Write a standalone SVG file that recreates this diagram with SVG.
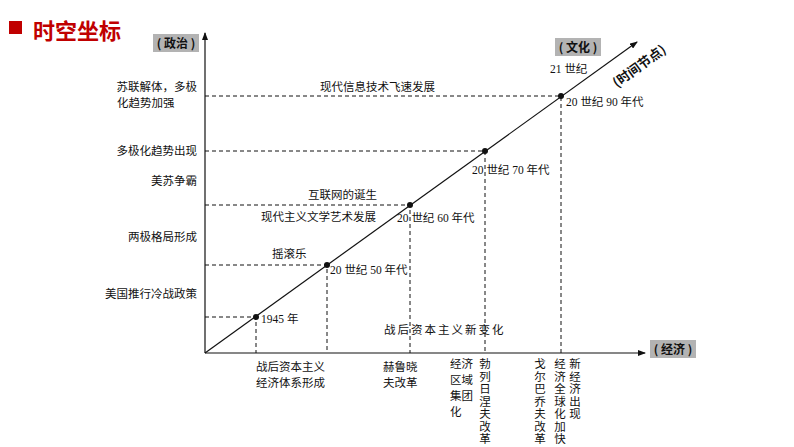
<svg xmlns="http://www.w3.org/2000/svg" width="794" height="447" viewBox="0 0 794 447">
<style>
text{font-family:"Liberation Serif","Noto Sans CJK SC",serif;font-size:11.5px;fill:#111}
.d{stroke:#111;stroke-width:1;stroke-dasharray:4,3;fill:none}
.ax{stroke:#111;stroke-width:1.2;fill:none}
.tag{fill:#b3b3b3}
.tt{font-family:"Noto Sans CJK SC",sans-serif;font-size:12px;font-weight:bold}
.v{writing-mode:vertical-rl;letter-spacing:1px}
</style>
<defs><marker id="ar" markerWidth="8" markerHeight="6" refX="7" refY="3" orient="auto" markerUnits="userSpaceOnUse"><path d="M0,0 L8,3 L0,6 Z" fill="#111"/></marker></defs>
<rect width="794" height="447" fill="#fff"/>
<rect x="9" y="21" width="13" height="13" fill="#c00000"/>
<text x="33" y="39" style="font-family:'Noto Sans CJK SC',sans-serif;font-size:22px;font-weight:bold;fill:#c00000">时空坐标</text>
<g id="axes">
<line class="ax" x1="205" y1="353" x2="205" y2="33" marker-end="url(#ar)"/>
<line class="ax" x1="205" y1="353" x2="645" y2="353" marker-end="url(#ar)"/>
<line class="ax" x1="205" y1="353" x2="637" y2="42" marker-end="url(#ar)"/>
</g>
<g id="tags">
<rect class="tag" x="153" y="34" width="46" height="18"/><text class="tt" x="176" y="48" text-anchor="middle">( 政治 )</text>
<rect class="tag" x="555" y="38" width="46" height="18"/><text class="tt" x="578" y="52" text-anchor="middle">( 文化 )</text>
<rect class="tag" x="650" y="340" width="46" height="18"/><text class="tt" x="673" y="354" text-anchor="middle">( 经济 )</text>
<text class="tt" transform="translate(617,88) rotate(-36)" style="font-size:13px">(时间节点)</text>
</g>
<g id="connectors">
<path class="d" d="M205 96H561V353M205 151H485V353M205 205H410V353M205 265H327V353M205 317H256V353"/>
</g>
<g id="points">
<circle cx="256" cy="317" r="3" fill="#111"/><circle cx="327" cy="265" r="3" fill="#111"/><circle cx="410" cy="205" r="3" fill="#111"/><circle cx="485" cy="151" r="3" fill="#111"/><circle cx="561" cy="96" r="3" fill="#111"/>
</g>
<g id="labels">
<text x="197" y="91" text-anchor="end">苏联解体，多极</text>
<text x="117" y="107">化趋势加强</text>
<text x="197" y="155" text-anchor="end">多极化趋势出现</text>
<text x="197" y="185" text-anchor="end">美苏争霸</text>
<text x="197" y="241" text-anchor="end">两极格局形成</text>
<text x="197" y="298" text-anchor="end">美国推行冷战政策</text>
<text x="320" y="91">现代信息技术飞速发展</text>
<text x="308" y="199">互联网的诞生</text>
<text x="261" y="221">现代主义文学艺术发展</text>
<text x="272" y="258">摇滚乐</text>
<text x="261" y="323">1945 年</text>
<text x="330" y="274">20 世纪 50 年代</text>
<text x="397" y="222">20 世纪 60 年代</text>
<text x="472" y="174">20 世纪 70 年代</text>
<text x="566" y="106">20 世纪 90 年代</text>
<text x="550" y="73">21 世纪</text>
<text x="384" y="334" style="letter-spacing:2px">战后资本主义新变化</text>
<text x="256" y="371">战后资本主义</text>
<text x="256" y="387">经济体系形成</text>
<text x="383" y="371">赫鲁晓</text>
<text x="383" y="387">夫改革</text>
<text x="450" y="368">经济</text><text x="450" y="384">区域</text><text x="450" y="400">集团</text><text x="450" y="416">化</text>
<text class="v" x="484" y="358">勃列日涅夫改革</text>
<text class="v" x="539" y="358">戈尔巴乔夫改革</text>
<text class="v" x="559" y="358">经济全球化加快</text>
<text class="v" x="574" y="358">新经济出现</text>
</g>
</svg>
